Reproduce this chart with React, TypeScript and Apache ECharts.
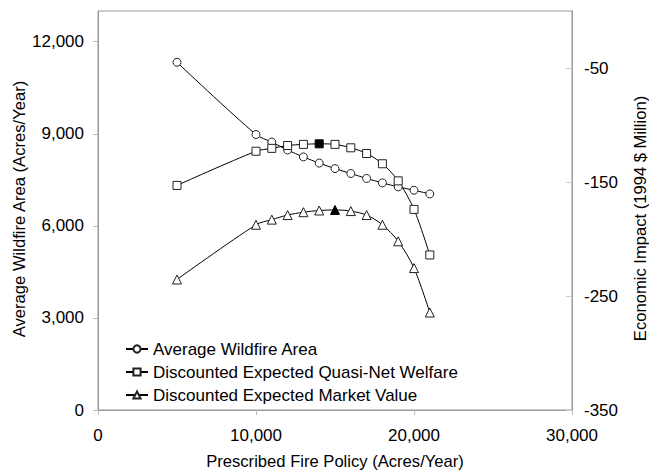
import React, { useEffect, useRef } from "react";
import * as echarts from "echarts";

const policy = [5000, 10000, 11000, 12000, 13000, 14000, 15000, 16000, 17000, 18000, 19000, 20000, 21000];
const wildfireArea = [11330, 8975, 8730, 8470, 8246, 8045, 7865, 7705, 7545, 7400, 7270, 7160, 7040];
const quasiNetWelfare = [-153, -123, -120.5, -118, -117, -116.5, -117, -120, -125, -134, -149, -174, -214];
const marketValue = [-235.5, -187.5, -183, -179, -176.5, -175, -174.5, -175.5, -179, -187.5, -202, -225.5, -264.5];
const welfareOptimum = 14000;
const marketOptimum = 15000;
const leftTicks = [0, 3000, 6000, 9000, 12000];
const rightTicks = [-350, -250, -150, -50];
const xTicks = [0, 10000, 20000, 30000];

const FONT = "Liberation Sans, Arial, Helvetica, sans-serif";
const fmt = (v: number) => Number(v).toLocaleString("en-US");

export default function App() {
  const ref = useRef<HTMLDivElement>(null);
  useEffect(() => {
    if (!ref.current) return;
    const chart = echarts.init(ref.current, null, { renderer: "svg" });
    const pts = (ys: number[]) => policy.map((x, i) => [x, ys[i]]);
    const welfareData = policy.map((x, i) =>
      x === welfareOptimum
        ? { value: [x, quasiNetWelfare[i]], itemStyle: { color: "#000", borderColor: "#000" } }
        : { value: [x, quasiNetWelfare[i]] }
    );
    const marketData = policy.map((x, i) =>
      x === marketOptimum
        ? { value: [x, marketValue[i]], itemStyle: { color: "#000", borderColor: "#000" } }
        : { value: [x, marketValue[i]] }
    );
    const axisLine = { show: true, lineStyle: { color: "#999", width: 1 } };
    const label = { color: "#000", fontFamily: FONT, fontSize: 17 };
    const nameStyle = { color: "#000", fontFamily: FONT, fontSize: 16.6 };
    const common = {
      type: "line",
      smooth: 0.3,
      symbolSize: 8,
      showAllSymbol: true,
      lineStyle: { color: "#000", width: 1 },
      itemStyle: { color: "#fff", borderColor: "#222", borderWidth: 1 },
      emphasis: { disabled: true },
    };
    chart.setOption({
      animation: false,
      backgroundColor: "#fff",
      textStyle: { fontFamily: FONT },
      grid: {
        left: 98, right: 77, top: 11, bottom: 60,
        containLabel: false, outerBoundsMode: "none",
        show: true, borderColor: "#999", borderWidth: 1,
      },
      legend: {
        orient: "vertical",
        left: 120,
        top: 334,
        itemWidth: 22,
        itemHeight: 9,
        itemGap: 3,
        textStyle: { color: "#000", fontFamily: FONT, fontSize: 17, lineHeight: 20 },
        data: ["Average Wildfire Area", "Discounted Expected Quasi-Net Welfare", "Discounted Expected Market Value"],
      },
      xAxis: {
        type: "value",
        min: 0,
        max: 30000,
        interval: 10000,
        name: "Prescribed Fire Policy (Acres/Year)",
        nameLocation: "middle",
        nameGap: 43,
        nameMoveOverlap: false,
        nameTextStyle: nameStyle,
        axisLine,
        axisTick: { show: true, length: 5, lineStyle: { color: "#bbb" }, customValues: xTicks },
        axisLabel: { ...label, margin: 17, formatter: fmt, customValues: xTicks },
        splitLine: { show: false },
      },
      yAxis: [
        {
          type: "value",
          min: 0,
          max: 13000,
          interval: 3000,
          position: "left",
          name: "Average Wildfire Area (Acres/Year)",
          nameLocation: "middle",
          nameRotate: 90,
          nameGap: 70,
          nameMoveOverlap: false,
          nameTextStyle: { ...nameStyle, padding: [0, 0, 0, 3] },
          axisLine,
          axisTick: { show: true, length: 5, lineStyle: { color: "#bbb" }, customValues: leftTicks },
          axisLabel: { ...label, margin: 14, formatter: fmt, customValues: leftTicks },
          splitLine: { show: false },
        },
        {
          type: "value",
          min: -350,
          max: 0,
          interval: 100,
          position: "right",
          name: "Economic Impact (1994 $ Million)",
          nameLocation: "middle",
          nameRotate: 90,
          nameGap: 60,
          nameMoveOverlap: false,
          nameTextStyle: { ...nameStyle, padding: [0, 16, 0, 0] },
          axisLine,
          axisTick: { show: true, inside: true, length: 6, lineStyle: { color: "#ccc" }, customValues: rightTicks },
          axisLabel: { ...label, margin: 12, formatter: (v: number) => String(v), customValues: rightTicks },
          splitLine: { show: false },
        },
      ],
      series: [
        { ...common, name: "Average Wildfire Area", yAxisIndex: 0, symbol: "circle", data: pts(wildfireArea) },
        { ...common, name: "Discounted Expected Quasi-Net Welfare", yAxisIndex: 1, symbol: "rect", data: welfareData },
        { ...common, name: "Discounted Expected Market Value", yAxisIndex: 1, symbol: "triangle", symbolSize: 9, data: marketData },
      ],
    });
    return () => chart.dispose();
  }, []);
  return <div ref={ref} style={{ position: "fixed", left: 0, top: 0, width: 649, height: 470 }} />;
}
